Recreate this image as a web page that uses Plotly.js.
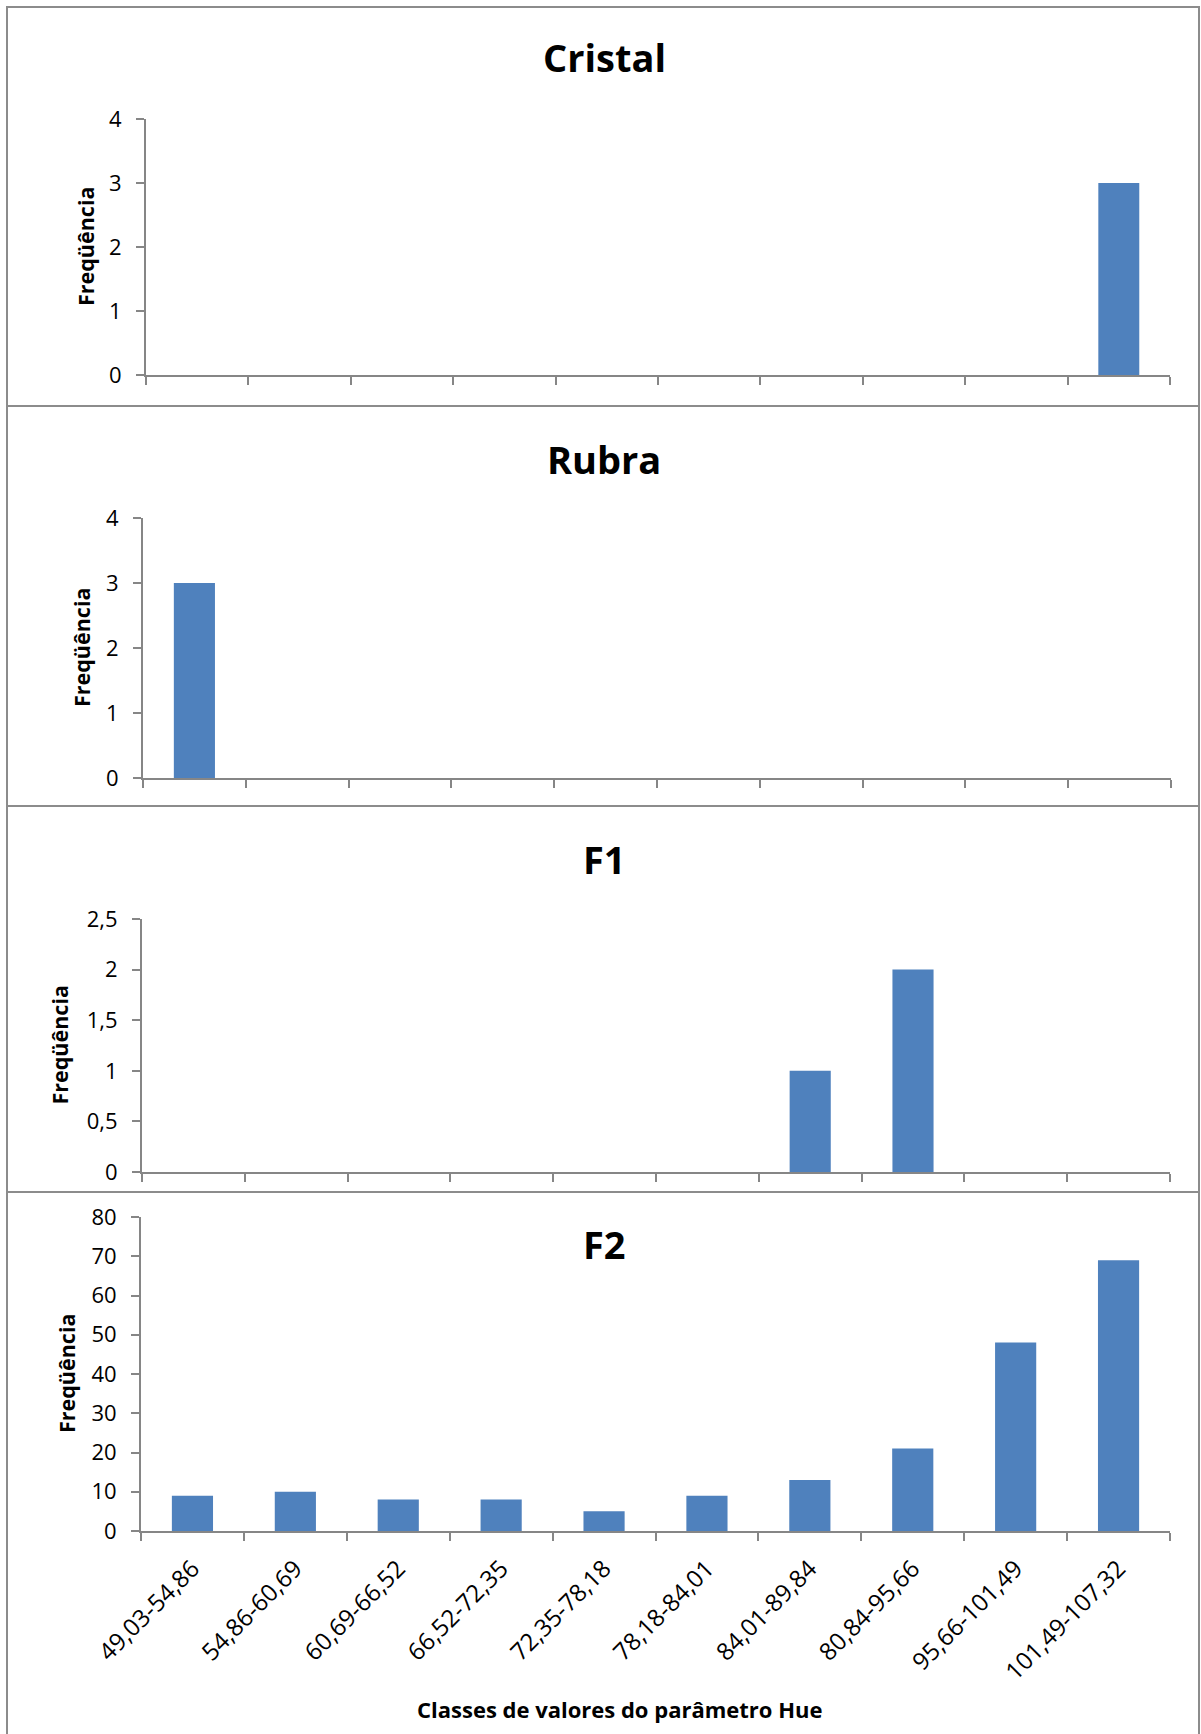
<!DOCTYPE html>
<html>
<head>
<meta charset="utf-8">
<script src="https://cdn.plot.ly/plotly-3.0.1.min.js"></script>
<style>
  html, body { margin: 0; padding: 0; background: #ffffff; }
  #chart { width: 1201px; height: 1734px; }
</style>
</head>
<body>
<div id="chart"></div>
<script>
// ---- data ----
const categories = ["49,03-54,86", "54,86-60,69", "60,69-66,52", "66,52-72,35", "72,35-78,18",
                    "78,18-84,01", "84,01-89,84", "80,84-95,66", "95,66-101,49", "101,49-107,32"];
const cristal = [0, 0, 0, 0, 0, 0, 0, 0, 0, 3];
const rubra   = [3, 0, 0, 0, 0, 0, 0, 0, 0, 0];
const f1      = [0, 0, 0, 0, 0, 0, 1, 2, 0, 0];
const f2      = [9, 10, 8, 8, 5, 9, 13, 21, 48, 69];
const panelTitles = ["Cristal", "Rubra", "F1", "F2"];
const yTitle = "Freqüência";
const xTitle = "Classes de valores do parâmetro Hue";

// ---- layout helpers (pixel geometry) ----
const W = 1201, H = 1734;
const px = v => v / W;
const py = v => 1 - v / H;

const panels = [
  {x0: 146, x1: 1170, y0: 119, y1: 375, range: [0, 4], dtick: 1, titleY: 57, yTitleX: 85},
  {x0: 143, x1: 1171, y0: 518, y1: 778, range: [0, 4], dtick: 1, titleY: 459, yTitleX: 82},
  {x0: 142, x1: 1170, y0: 919, y1: 1172, range: [0, 2.5], dtick: 0.5, titleY: 859, yTitleX: 59},
  {x0: 141, x1: 1170, y0: 1217, y1: 1531, range: [0, 80], dtick: 10, titleY: 1244, yTitleX: 66}
];
const series = [cristal, rubra, f1, f2];

const axisColor = "#868686";
const barColor = "#4F81BD";
const font = "Open Sans, DejaVu Sans, sans-serif";

const data = series.map((s, i) => ({
  type: "bar",
  x: categories,
  y: s,
  xaxis: i === 0 ? "x" : "x" + (i + 1),
  yaxis: i === 0 ? "y" : "y" + (i + 1),
  marker: {color: barColor, line: {width: 0}},
  hoverinfo: "x+y",
  showlegend: false
}));

const layout = {
  width: W, height: H,
  margin: {l: 0, r: 0, t: 0, b: 0},
  paper_bgcolor: "#ffffff",
  plot_bgcolor: "rgba(0,0,0,0)",
  separators: ", ",
  bargap: 0.6,
  font: {family: font, color: "#000000", size: 22},
  annotations: [],
  shapes: []
};

panels.forEach((p, i) => {
  const xa = i === 0 ? "xaxis" : "xaxis" + (i + 1);
  const ya = i === 0 ? "yaxis" : "yaxis" + (i + 1);
  const last = i === panels.length - 1;
  layout[xa] = {
    domain: [px(p.x0), px(p.x1)],
    anchor: i === 0 ? "y" : "y" + (i + 1),
    type: "category",
    categoryorder: "array",
    categoryarray: categories,
    range: [-0.5, categories.length - 0.5],
    showline: true, linecolor: axisColor, linewidth: 2,
    ticks: "outside", tickson: "boundaries", ticklen: 8, tickwidth: 2, tickcolor: axisColor,
    showgrid: false, zeroline: false,
    showticklabels: last,
    tickangle: -45,
    tickfont: {family: font, size: 24, color: "#000"},
    ticklabelstandoff: 12,
    fixedrange: true,
    automargin: false
  };
  layout[ya] = {
    domain: [py(p.y1), py(p.y0)],
    anchor: i === 0 ? "x" : "x" + (i + 1),
    range: p.range,
    dtick: p.dtick, tick0: 0,
    showline: true, linecolor: axisColor, linewidth: 2,
    ticks: "outside", ticklen: 8, tickwidth: 2, tickcolor: axisColor,
    showgrid: false, zeroline: false,
    tickfont: {family: font, size: 22, color: "#000"},
    ticklabelstandoff: 10,
    fixedrange: true,
    automargin: false
  };
  // panel title
  layout.annotations.push({
    xref: "paper", yref: "paper", x: px(604), y: py(p.titleY),
    xanchor: "center", yanchor: "middle",
    text: "<b>" + panelTitles[i] + "</b>", showarrow: false,
    font: {family: font, size: 38, color: "#000"}
  });
  // y axis title
  layout.annotations.push({
    xref: "paper", yref: "paper", x: px(p.yTitleX), y: py((p.y0 + p.y1) / 2),
    xanchor: "center", yanchor: "middle", textangle: -90,
    text: "<b>" + yTitle + "</b>", showarrow: false,
    font: {family: font, size: 21.5, color: "#000"}
  });
});

// x axis title (bottom)
layout.annotations.push({
  xref: "paper", yref: "paper", x: px(619), y: py(1709),
  xanchor: "center", yanchor: "middle",
  text: "<b>" + xTitle + "</b>", showarrow: false,
  font: {family: font, size: 22, color: "#000"}
});

// panel frames
const frameColor = "#8c8c8c";
const frameLine = {color: frameColor, width: 2};
[[7, 406], [406, 806], [806, 1192], [1192, 1745]].forEach(([t, b]) => {
  layout.shapes.push({
    type: "rect", xref: "paper", yref: "paper",
    x0: px(7), x1: px(1199), y0: py(b), y1: py(t),
    line: frameLine, fillcolor: "rgba(0,0,0,0)", layer: "below"
  });
});

Plotly.newPlot("chart", data, layout, {displayModeBar: false, staticPlot: true});
</script>
</body>
</html>
